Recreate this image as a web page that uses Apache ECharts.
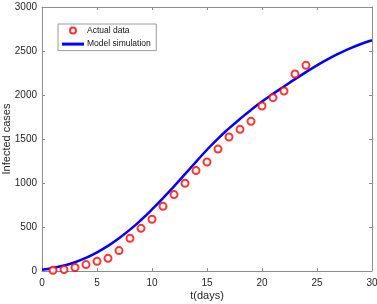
<!DOCTYPE html>
<html>
<head>
<meta charset="utf-8">
<script src="https://cdn.jsdelivr.net/npm/echarts@6/dist/echarts.min.js"></script>
<style>
  html, body { margin: 0; padding: 0; background: #fff; }
  #chart { width: 377px; height: 304px; }
</style>
</head>
<body>
<div id="chart"></div>
<script>
// observed infected cases, day 1..24
const actualDays = [1, 2, 3, 4, 5, 6, 7, 8, 9, 10, 11, 12, 13, 14, 15, 16, 17, 18, 19, 20, 21, 22, 23, 24]
const actualCases = [8, 16, 40, 73, 110, 144, 232, 372, 485, 588, 735, 868, 997, 1141, 1239, 1385, 1523, 1610, 1701, 1875, 1970, 2045, 2239, 2337]
// model curve, day 0..30
const modelDays = [0, 1, 2, 3, 4, 5, 6, 7, 8, 9, 10, 11, 12, 13, 14, 15, 16, 17, 18, 19, 20, 21, 22, 23, 24, 25, 26, 27, 28, 29, 30]
const modelCases = [15, 35, 62, 100, 150, 212, 285, 372, 470, 580, 700, 828, 962, 1100, 1240, 1378, 1505, 1620, 1728, 1830, 1925, 2013, 2097, 2180, 2260, 2337, 2408, 2472, 2530, 2580, 2622]
const xTicks = [0, 5, 10, 15, 20, 25, 30]
const yTicks = [0, 500, 1000, 1500, 2000, 2500, 3000]

const frameColor = '#8c8c8c'
const labelColor = '#262626'
const font = 'Liberation Sans, Arial, sans-serif'

let chart = echarts.init(document.getElementById('chart'))

let xBase = {
  type: 'value',
  min: xTicks[0],
  max: xTicks[xTicks.length - 1],
  interval: xTicks[1] - xTicks[0],
  axisLine: { show: true, onZero: false, lineStyle: { color: frameColor, width: 1 } },
  axisTick: { show: true, inside: true, length: 3, lineStyle: { color: frameColor } },
  splitLine: { show: false }
}
let yBase = {
  type: 'value',
  min: yTicks[0],
  max: yTicks[yTicks.length - 1],
  interval: yTicks[1] - yTicks[0],
  axisLine: { show: true, onZero: false, lineStyle: { color: frameColor, width: 1 } },
  axisTick: { show: true, inside: true, length: 3, lineStyle: { color: frameColor } },
  splitLine: { show: false }
}

let option = {
  animation: false,
  textStyle: { fontFamily: font },
  grid: { left: 42, right: 5, top: 7, bottom: 33, containLabel: false, outerBoundsMode: 'none' },
  legend: {
    orient: 'vertical',
    left: 58,
    top: 24,
    padding: [1.5, 5.5, 1.5, 4],
    itemGap: 3.6,
    itemWidth: 22,
    itemHeight: 6,
    borderColor: '#9a9a9a',
    borderWidth: 1,
    backgroundColor: '#fff',
    align: 'left',
    textStyle: { fontSize: 8.5, lineHeight: 10, color: '#111', fontFamily: font, padding: [0, 0, 0, -2] },
    data: [
      { name: 'Actual data' },
      { name: 'Model simulation', icon: 'path://M0,0 L22,0 L22,3 L0,3 Z' }
    ]
  },
  xAxis: [
    Object.assign({}, xBase, {
      position: 'bottom',
      name: 't(days)',
      nameLocation: 'middle',
      nameGap: 19,
      nameMoveOverlap: false,
      nameTextStyle: { fontSize: 11, color: labelColor },
      axisLabel: { fontSize: 10, color: labelColor, margin: 7 }
    }),
    Object.assign({}, xBase, { position: 'top', axisLabel: { show: false } })
  ],
  yAxis: [
    Object.assign({}, yBase, {
      position: 'left',
      name: 'Infected cases',
      nameLocation: 'middle',
      nameGap: 30,
      nameMoveOverlap: false,
      nameTextStyle: { fontSize: 11, color: labelColor },
      axisLabel: { fontSize: 10, color: labelColor, margin: 5, formatter: v => String(v) }
    }),
    Object.assign({}, yBase, { position: 'right', axisLabel: { show: false } })
  ],
  series: [
    {
      name: 'Model simulation',
      type: 'line',
      data: modelDays.map((d, i) => [d, modelCases[i]]),
      smooth: true,
      symbol: 'none',
      lineStyle: { color: '#0000ff', width: 2.5 },
      itemStyle: { color: '#0000ff' },
      z: 2
    },
    {
      name: 'Actual data',
      type: 'scatter',
      data: actualDays.map((d, i) => [d, actualCases[i]]),
      symbol: 'emptyCircle',
      symbolSize: 7,
      itemStyle: { color: '#ff0000', borderColor: '#ff0000', borderWidth: 1.5 },
      z: 3
    }
  ]
}

chart.setOption(option)
</script>
</body>
</html>
